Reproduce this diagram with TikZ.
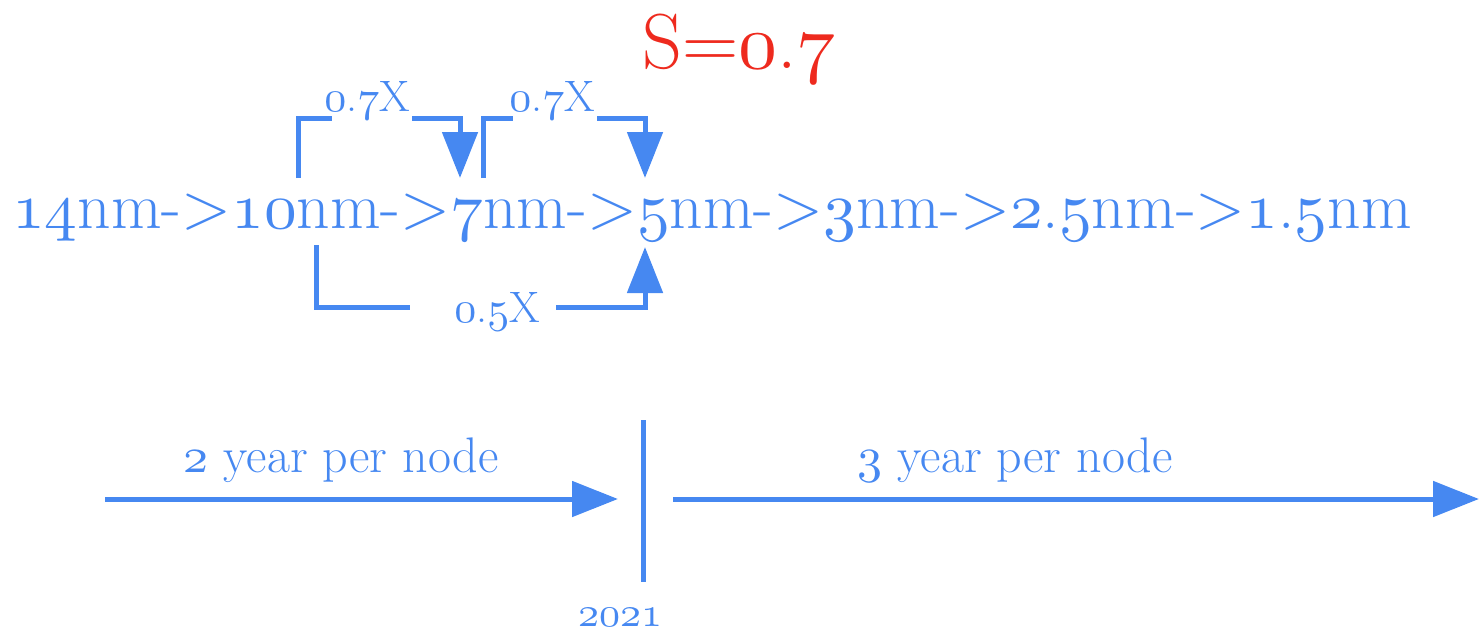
\documentclass[tikz,border=0pt]{standalone}
\usetikzlibrary{arrows.meta}
\definecolor{gblue}{HTML}{4688F1}
\definecolor{sred}{HTML}{EE2A1E}
\newcommand\osf[2]{{\font\myosffont=cmmi10 at #1pt\myosffont #2}}
\tikzset{
  line/.style={gblue, line width=5pt},
  arr/.style={line, -{Triangle[length=46pt,width=35pt]}},
  lbl/.style={text=gblue, inner sep=0pt, anchor=base, font=\fontsize{44}{50}\selectfont},
  tlbl/.style={text=gblue, inner sep=0pt, anchor=base, font=\fontsize{50}{56}\selectfont},
}
\begin{document}
\begin{tikzpicture}[x=1pt,y=-1pt]
\useasboundingbox (0,0) rectangle (1481,637);
% title
\node[text=sred, inner sep=0pt, anchor=base, font=\fontsize{78}{82}\selectfont] (s) at (739,68) {S=\osf{78}{0}.\osf{78}{7}};
% main line
\node[text=gblue, inner sep=0pt, anchor=base west, font=\fontsize{65.5}{72}\selectfont] (main) at (12,228)
  {\osf{65.5}{14}nm->\osf{65.5}{10}nm->\osf{65.5}{7}nm->\osf{65.5}{5}nm->\osf{65.5}{3}nm->\osf{65.5}{2}.\osf{65.5}{5}nm->\osf{65.5}{1}.\osf{65.5}{5}nm};
% top bracket 1
\coordinate (a1) at (298,178);
\coordinate (a2) at (460,178);
\node[lbl] (l1) at (367,111) {\osf{44}{0}.\osf{44}{7}X};
\draw[line] (a1) -- (298,118) -- (332,118);
\draw[arr] (412,118) -- (460,118) -- (a2);
% top bracket 2
\coordinate (b1) at (483,178);
\coordinate (b2) at (645,178);
\node[lbl] (l2) at (552,111) {\osf{44}{0}.\osf{44}{7}X};
\draw[line] (b1) -- (483,118) -- (513,118);
\draw[arr] (597,118) -- (645,118) -- (b2);
% bottom bracket
\coordinate (c1) at (316,245);
\coordinate (c2) at (645,247);
\node[lbl] (l3) at (497,322) {\osf{44}{0}.\osf{44}{5}X};
\draw[line] (c1) -- (316,307) -- (410,307);
\draw[arr] (556,307) -- (645,307) -- (c2);
% timeline
\coordinate (t0) at (105,499);
\coordinate (t1) at (618,499);
\coordinate (t2) at (673,499);
\coordinate (t3) at (1479,499);
\coordinate (v0) at (643,420);
\coordinate (v1) at (643,582);
\draw[arr] (t0) -- (t1);
\draw[arr] (t2) -- (t3);
\draw[line] (v0) -- (v1);
\node[tlbl] (y1) at (341,472) {\osf{50}{2} year per node};
\node[tlbl] (y2) at (1015,472) {\osf{50}{3} year per node};
\node[text=gblue, inner sep=0pt, anchor=base, font=\fontsize{42}{46}\selectfont] (yr) at (620,626) {\osf{42}{2021}};
\end{tikzpicture}
\end{document}
